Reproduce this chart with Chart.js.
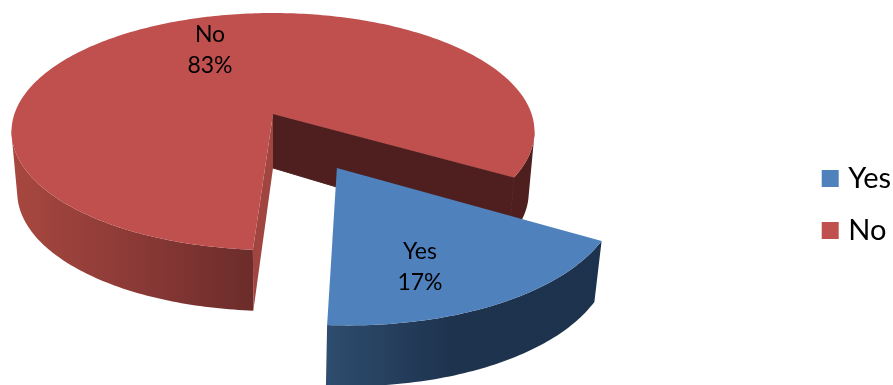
<!DOCTYPE html>
<html>
<head>
<meta charset="utf-8">
<title>Yes / No</title>
<style>
    html, body { margin: 0; padding: 0; background: #fff; }
    canvas { display: block; }
</style>
<script src="https://cdn.jsdelivr.net/npm/chart.js@4"></script>
</head>
<body>
<canvas id="pieChart" width="893" height="385"></canvas>
<script>
const categories = ['Yes', 'No'];
const shares = [17, 83];
const topColors = ['#4F81BD', '#C0504D'];
const explode = [0.494, 0];

// tilted disc: centre, radius, squash, perspective, thickness
const view = { cx: 273, cy: 114, r: 258.6, flat: 115.9, persp: 0.1478, depthAxis: 54, depthRim: 61, shrink: 0.978 };

// the cut looks a little wider than the slice once tilted, about one degree each side
const cutPad = 1.1 * Math.PI / 180;

// label centres, one per category
const labelSpots = [[420, 252], [210, 35]];
const labelGap = 31;

function project(u, v) {
    const s = 1 / (1 - view.persp * v);
    return { x: view.cx + view.r * u * s, y: view.cy + view.flat * v * s };
}

function projectLow(u, v) {
    const p = project(u, v);
    const reach = Math.min(1, Math.hypot(u, v));
    return {
        x: view.cx + (p.x - view.cx) * view.shrink,
        y: p.y + view.depthAxis + (view.depthRim - view.depthAxis) * reach
    };
}

function rimPoints(from, to, shift, fn) {
    const pts = [];
    const steps = Math.ceil((to - from) * 60);
    for (let i = 0; i <= steps; i++) {
        const a = from + (to - from) * i / steps;
        pts.push(fn(shift.u + Math.cos(a), shift.v + Math.sin(a)));
    }
    return pts;
}

function fillPoly(ctx, pts, fill, seal) {
    ctx.beginPath();
    pts.forEach((p, i) => i ? ctx.lineTo(p.x, p.y) : ctx.moveTo(p.x, p.y));
    ctx.closePath();
    ctx.fillStyle = fill;
    ctx.fill();
    if (seal) {
        ctx.strokeStyle = fill;
        ctx.lineWidth = 1;
        ctx.stroke();
    }
}

function wallGradient(ctx, stops) {
    const first = stops[0][0];
    const span = stops[stops.length - 1][0] - first;
    const g = ctx.createLinearGradient(first, 0, first + span, 0);
    stops.forEach(s => g.addColorStop((s[0] - first) / span, s[1]));
    return g;
}

// outer wall: all strips in one path, wound the same way so they don't cancel
// the back of the rim is skipped, it sits behind the top anyway
function fillWall(ctx, top, low, fill) {
    ctx.beginPath();
    for (let i = 0; i < top.length - 1; i++) {
        if (top[i].y < view.cy + 16 && top[i + 1].y < view.cy + 16) continue;
        let quad = [top[i], top[i + 1], low[i + 1], low[i]];
        let area = 0;
        quad.forEach((p, k) => {
            const q = quad[(k + 1) % 4];
            area += p.x * q.y - q.x * p.y;
        });
        if (area < 0) quad = quad.reverse();
        quad.forEach((p, k) => k ? ctx.lineTo(p.x, p.y) : ctx.moveTo(p.x, p.y));
        ctx.closePath();
    }
    ctx.fillStyle = fill;
    ctx.fill();
}

// the library lays out the slice angles, this turns them into a thick tilted disc
const tiltedPie = {
    id: 'tiltedPie',
    beforeDatasetsDraw(chart) {
        const ctx = chart.ctx;
        const arcs = chart.getDatasetMeta(0).data;

        // No: outer wall, cut faces, then the top
        const no = arcs[1];
        const noShift = { u: 0, v: 0 };
        const apexTop = project(0, 0);
        const apexLow = projectLow(0, 0);
        const noFrom = no.startAngle + cutPad;
        const noTo = no.endAngle - cutPad;
        const noTop = rimPoints(noFrom, noTo, noShift, project);
        const noLow = rimPoints(noFrom, noTo, noShift, projectLow);
        fillWall(ctx, noTop, noLow, wallGradient(ctx, [
            [11, '#A8483F'], [130, '#8C3A37'], [254, '#6B2C2A'], [262, '#4E1F1E'], [540, '#4E1F1E']
        ]));
        fillPoly(ctx, [apexTop, noTop[noTop.length - 1], noLow[noLow.length - 1], apexLow], '#4E1F1E', true);
        fillPoly(ctx, [apexTop, noTop[0], noLow[0], apexLow], '#A0453F');
        fillPoly(ctx, [apexTop].concat(noTop), topColors[1]);

        // Yes is pulled out along its middle angle
        const yes = arcs[0];
        const mid = (yes.startAngle + yes.endAngle) / 2;
        const yesShift = { u: Math.cos(mid) * explode[0], v: Math.sin(mid) * explode[0] };
        const yesFrom = yes.startAngle - cutPad;
        const yesTo = yes.endAngle + cutPad;
        const yesTop = rimPoints(yesFrom, yesTo, yesShift, project);
        const yesLow = rimPoints(yesFrom, yesTo, yesShift, projectLow);
        fillWall(ctx, yesTop, yesLow, wallGradient(ctx, [
            [328, '#2E4C6E'], [450, '#1E334E'], [600, '#1D324C']
        ]));
        fillPoly(ctx, [project(yesShift.u, yesShift.v)].concat(yesTop), topColors[0]);

        ctx.fillStyle = '#000';
        ctx.font = '23px Lato';
        ctx.textAlign = 'center';
        ctx.textBaseline = 'middle';
        categories.forEach((name, i) => {
            ctx.fillText(name, labelSpots[i][0], labelSpots[i][1]);
            ctx.fillText(shares[i] + '%', labelSpots[i][0], labelSpots[i][1] + labelGap);
        });
        return false;
    }
};

new Chart(document.getElementById('pieChart'), {
    type: 'pie',
    data: {
        labels: categories,
        datasets: [{
            data: shares,
            backgroundColor: topColors,
            borderWidth: 0
        }]
    },
    options: {
        responsive: false,
        animation: false,
        rotation: 121.5,
        layout: { padding: { top: 24, right: -8 } },
        plugins: {
            tooltip: { enabled: false },
            legend: {
                position: 'right',
                labels: {
                    usePointStyle: true,
                    pointStyle: 'rect',
                    boxWidth: 7,
                    boxHeight: 17,
                    padding: 23,
                    color: '#000',
                    font: { family: 'Lato', size: 29 }
                }
            }
        }
    },
    plugins: [tiltedPie]
});
</script>
</body>
</html>
